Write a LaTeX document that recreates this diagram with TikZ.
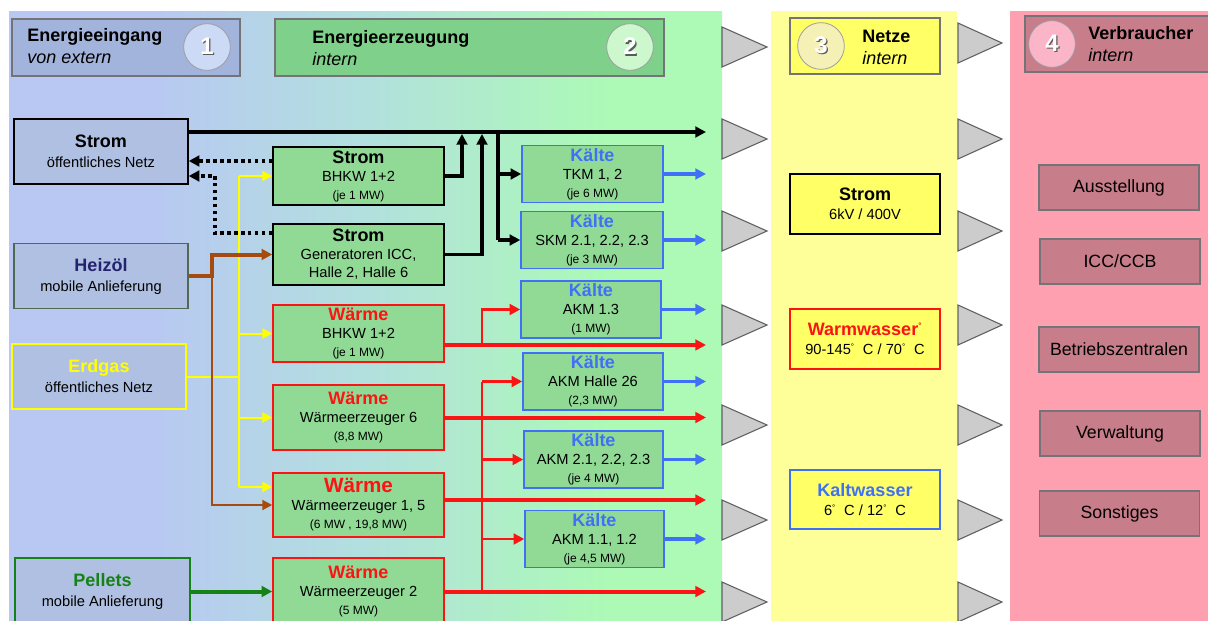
\documentclass[tikz,border=0pt]{standalone}
\usepackage{fontspec}
\setmainfont{Liberation Sans}
\usetikzlibrary{arrows.meta,calc}
\definecolor{zoneblue}{RGB}{184,200,242}
\definecolor{zoneteal}{RGB}{178,224,222}
\definecolor{zonegreen}{RGB}{172,250,182}
\definecolor{zoneyellow}{RGB}{255,255,153}
\definecolor{zonepink}{RGB}{255,160,176}
\definecolor{headblue}{RGB}{163,180,220}
\definecolor{headgreen}{RGB}{127,208,138}
\definecolor{headyellow}{RGB}{255,255,102}
\definecolor{headrose}{RGB}{199,125,138}
\definecolor{circblue}{RGB}{205,218,246}
\definecolor{circgreen}{RGB}{205,248,205}
\definecolor{circyellow}{RGB}{245,240,182}
\definecolor{circrose}{RGB}{250,182,200}
\definecolor{srcfill}{RGB}{176,192,226}
\definecolor{genfill}{RGB}{145,218,150}
\definecolor{edgegray}{RGB}{115,115,120}
\definecolor{heatred}{RGB}{250,20,20}
\definecolor{coldblue}{RGB}{64,112,245}
\definecolor{gasyellow}{RGB}{255,255,0}
\definecolor{oilbrown}{RGB}{165,75,15}
\definecolor{oilnavy}{RGB}{35,35,110}
\definecolor{oiledge}{RGB}{80,105,80}
\definecolor{pelletgreen}{RGB}{20,130,20}
\definecolor{trifill}{RGB}{204,204,204}
\definecolor{trigray}{RGB}{95,95,95}
\definecolor{numshadow}{RGB}{90,90,90}

% horizontal blend of zone 1 into zone 2
\pgfdeclarehorizontalshading{zoneshade}{100bp}{color(0bp)=(zoneblue); color(25bp)=(zoneblue); color(35bp)=(zoneblue); color(50bp)=(zoneteal); color(67bp)=(zonegreen); color(75bp)=(zonegreen); color(100bp)=(zonegreen)}

\newcommand\ttl[1]{{\fontsize{13.5}{14}\selectfont\bfseries #1}}
\newcommand\sml[1]{{\fontsize{9}{10}\selectfont #1}}
\newcommand\kaelte{\ttl{\textcolor{coldblue}{Kälte}}}
\newcommand\dg{\textsuperscript{\fontsize{6}{6}\selectfont °}}
\newcommand\shadownum[1]{\rlap{\kern1pt\raisebox{-1pt}{\textcolor{numshadow}{#1}}}\textcolor{white}{#1}}

\begin{document}
\begin{tikzpicture}[x=0.75pt,y=-0.75pt,
  >={Triangle[length=8pt,width=8pt]},
  cell/.style={draw,line width=1.1pt,inner sep=2pt,align=center,
    font=\fontsize{11}{13.5}\selectfont},
  boxsize/.style 2 args={minimum width=#1*0.75pt,minimum height=#2*0.75pt},
  headbox/.style={draw=edgegray,line width=0.9pt},
  headtext/.style={anchor=west,align=left,inner sep=0pt,
    font=\fontsize{13.5}{16.5}\selectfont},
  numcircle/.style={circle,draw=edgegray!70,line width=0.6pt,minimum size=35pt,
    inner sep=0pt,font=\fontsize{18}{18}\selectfont\bfseries},
  srcbox/.style={cell,fill=srcfill,boxsize={174}{65},font=\fontsize{11}{15}\selectfont},
  genbox/.style={cell,fill=genfill,boxsize={171}{#1}},
  coldbox/.style={cell,fill=genfill,draw=coldblue},
  netbox/.style={cell,fill=headyellow,boxsize={150}{60},font=\fontsize{11}{14.25}\selectfont},
  userbox/.style={cell,fill=headrose,draw=edgegray,boxsize={160}{45},
    font=\fontsize{13.3}{15}\selectfont},
  tri/.style={fill=trifill,draw=trigray,line width=0.8pt},
  power/.style={line width=2.6pt},
  backfeed/.style={line width=2.6pt,dash pattern=on 2.6pt off 2.6pt},
  gas/.style={gasyellow,line width=1.5pt,>={Triangle[length=7.5pt,width=7.5pt]}},
  oil/.style={oilbrown,line width=3pt},
  oilthin/.style={oilbrown,line width=1.5pt,>={Triangle[length=7.5pt,width=7.5pt]}},
  pellet/.style={pelletgreen,line width=3pt},
  heat/.style={heatred,line width=3pt},
  heattap/.style={heatred,line width=2.2pt},
  heatbusline/.style={heatred,line width=1.5pt},
  cold/.style={coldblue,line width=2.3pt}]

  \useasboundingbox (0,0) rectangle (1208,621);

  % --- zones ---
  \fill[shading=zoneshade] (9,11) rectangle (722,625);
  \fill[zoneyellow] (771,11) rectangle (957,625);
  \fill[zonepink] (1010,11) rectangle (1215,625);

  % transfer triangles between the zones
  \foreach \ty in {47,139,231,325,425,520,602}
    \filldraw[tri] (722,\ty-20) -- (767,\ty) -- (722,\ty+20) -- cycle;
  \foreach \ty in {43,139,231,325,425,520,602}
    \filldraw[tri] (958,\ty-20) -- (1002,\ty) -- (958,\ty+20) -- cycle;

  % --- zone headers ---
  \node[headbox,fill=headblue,boxsize={228}{57}] (h1) at (126,47.5) {};
  \node[headtext] (h1t) at (27,46.5) {\textbf{Energieeingang}\\\textit{von extern}};
  \node[numcircle,fill=circblue] (c1) at (207,47) {\shadownum{1}};

  \node[headbox,fill=headgreen,boxsize={389}{57}] (h2) at (469.5,47.5) {};
  \node[headtext] (h2t) at (312,48) {\textbf{Energieerzeugung}\\\textit{intern}};
  \node[numcircle,fill=circgreen] (c2) at (630,47) {\shadownum{2}};

  \node[headbox,fill=headyellow,boxsize={150}{56}] (h3) at (865,46) {};
  \node[headtext] (h3t) at (862,47.5) {\textbf{Netze}\\\textit{intern}};
  \node[numcircle,fill=circyellow] (c3) at (821,46) {\shadownum{3}};

  \node[headbox,fill=headrose,boxsize={187}{56}] (h4) at (1118.5,44) {};
  \node[headtext] (h4t) at (1088,44) {\textbf{Verbraucher}\\\textit{intern}};
  \node[numcircle,fill=circrose] (c4) at (1052,44) {\shadownum{4}};

  % --- sources (zone 1) ---
  \node[srcbox,draw=black] (snetz) at (101,151.5)
    {\ttl{Strom}\\öffentliches Netz};
  \node[srcbox,draw=oiledge] (oil) at (101,276)
    {\ttl{\textcolor{oilnavy}{Heizöl}}\\mobile Anlieferung};
  \node[srcbox,draw=gasyellow] (gas) at (99,376.5)
    {\ttl{\textcolor{gasyellow}{Erdgas}}\\öffentliches Netz};
  \node[srcbox,draw=pelletgreen,boxsize={175}{67}] (pellet) at (102.5,591.5)
    {\ttl{\textcolor{pelletgreen}{Pellets}}\\mobile Anlieferung};

  % --- generation (zone 2) ---
  \node[genbox=58,draw=black] (sbhkw) at (358.5,176)
    {\ttl{Strom}\\BHKW 1+2\\\sml{(je 1 MW)}};
  \node[genbox=61,draw=black] (sgen) at (358.5,254.5)
    {\ttl{Strom}\\Generatoren ICC,\\Halle 2, Halle 6};
  \node[genbox=57,draw=heatred] (wbhkw) at (358.5,333.5)
    {\ttl{\textcolor{heatred}{Wärme}}\\BHKW 1+2\\\sml{(je 1 MW)}};
  \node[genbox=65,draw=heatred] (w6) at (358.5,417.5)
    {\ttl{\textcolor{heatred}{Wärme}}\\Wärmeerzeuger 6\\\sml{(8,8 MW)}};
  \node[genbox=64,draw=heatred] (w15) at (358.5,505)
    {{\fontsize{15.5}{16}\selectfont\bfseries\textcolor{heatred}{Wärme}}\\
     Wärmeerzeuger 1, 5\\\sml{(6 MW , 19,8 MW)}};
  \node[genbox=67,draw=heatred] (w2) at (358.5,591.5)
    {\ttl{\textcolor{heatred}{Wärme}}\\Wärmeerzeuger 2\\\sml{(5 MW)}};

  % chillers
  \node[coldbox,boxsize={141}{56}] (k1) at (592.5,174)
    {\kaelte\\TKM 1, 2\\\sml{(je 6 MW)}};
  \node[coldbox,boxsize={142}{54}] (k2) at (592,240)
    {\kaelte\\SKM 2.1, 2.2, 2.3\\\sml{(je 3 MW)}};
  \node[coldbox,boxsize={140}{53}] (k3) at (591,309.5)
    {\kaelte\\AKM 1.3\\\sml{(1 MW)}};
  \node[coldbox,boxsize={140}{51}] (k4) at (593,381.5)
    {\kaelte\\AKM Halle 26\\\sml{(2,3 MW)}};
  \node[coldbox,boxsize={139}{55}] (k5) at (593.5,459.5)
    {\kaelte\\AKM 2.1, 2.2, 2.3\\\sml{(je 4 MW)}};
  \node[coldbox,boxsize={139}{54}] (k6) at (594.5,539)
    {\kaelte\\AKM 1.1, 1.2\\\sml{(je 4,5 MW)}};

  % --- networks (zone 3) ---
  \node[netbox,draw=black] (nstrom) at (865,204) {\ttl{Strom}\\6kV / 400V};
  \node[netbox,draw=heatred] (nwarm) at (865,339)
    {\ttl{\textcolor{heatred}{Warmwasser\dg}}\\90-145\dg\ \ C / 70\dg\ \ C};
  \node[netbox,draw=coldblue,boxsize={150}{59}] (nkalt) at (865,499.5)
    {\ttl{\textcolor{coldblue}{Kaltwasser}}\\6\dg\ \ C / 12\dg\ \ C};

  % --- consumers (zone 4) ---
  \node[userbox] (u1) at (1119,187.5) {Ausstellung};
  \node[userbox] (u2) at (1120,261.5) {ICC/CCB};
  \node[userbox] (u3) at (1119,349.5) {Betriebszentralen};
  \node[userbox] (u4) at (1120,433.5) {Verwaltung};
  \node[userbox] (u5) at (1119.5,513.5) {Sonstiges};

  % --- junction points ---
  \coordinate (busend) at (706,132);
  \coordinate (upA) at (462,134);
  \coordinate (upB) at (482,134);
  \coordinate (coldtap) at (498,132);
  \coordinate (outx) at (706,0);
  \coordinate (gasbus) at (239,0);
  \coordinate (oilbus) at (212,0);
  \coordinate (heatbus) at (482,0);
  \coordinate (dotbus) at (215,176);

  % electricity
  \draw[power,->] (snetz.east |- busend) -- (busend);
  \draw[power,->] (sbhkw.east) -| (upA);
  \draw[power,->] (sgen.east) -| (upB);
  \draw[power] (coldtap) -- (coldtap |- k2.west);
  \draw[power,->] (coldtap |- k1.west) -- (k1.west);
  \draw[power,->] (coldtap |- k2.west) -- (k2.west);

  % feed back into the public grid
  \path ([yshift=11.25pt]sbhkw.west) coordinate (dotA);
  \path ([yshift=16pt]sgen.west) coordinate (dotB);
  \draw[backfeed,->] (dotA) -- (dotA -| snetz.east);
  \draw[backfeed,->] (dotB) -| (dotbus) -- (dotbus -| snetz.east);

  % natural gas
  \path ([yshift=13.5pt]w15.west) coordinate (gasend);
  \draw[gas] (gas.east) -- (gas.east -| gasbus);
  \draw[gas] (gasbus |- sbhkw.west) -- (gasbus |- gasend);
  \foreach \n in {sbhkw,wbhkw,w6}
    \draw[gas,->] (gasbus |- \n.west) -- (\n.west);
  \draw[gas,->] (gasbus |- gasend) -- (gasend);

  % heating oil
  \draw[oil,->] (oil.east) -| (oilbus |- sgen.west) -- (sgen.west);
  \draw[oilthin,->] (oilbus |- oil.east) -- (oilbus |- w15.west) -- (w15.west);

  % pellets
  \draw[pellet,->] (pellet) -- (w2);

  % heat
  \path ([yshift=-8.6pt]wbhkw.east) coordinate (heatA);
  \path ([yshift=3.75pt]w15.east) coordinate (heatC);
  \draw[heat,->] (heatA) -- (heatA -| outx);
  \draw[heattap,->] (heatA -| heatbus) |- (k3.west);
  \draw[heat,->] (w6.east) -- (w6.east -| outx);
  \draw[heat,->] (heatC) -- (heatC -| outx);
  \draw[heat,->] (w2.east) -- (w2.east -| outx);
  \draw[heatbusline] (w2.east -| heatbus) -- (heatbus |- k4.west);
  \foreach \k in {k4,k5,k6}
    \draw[heattap,->] (heatbus |- \k.west) -- (\k.west);

  % chilled water
  \foreach \k in {k1,k2,k3,k4,k5,k6}
    \draw[cold,->] (\k.east) -- (\k.east -| outx);

\end{tikzpicture}
\end{document}
